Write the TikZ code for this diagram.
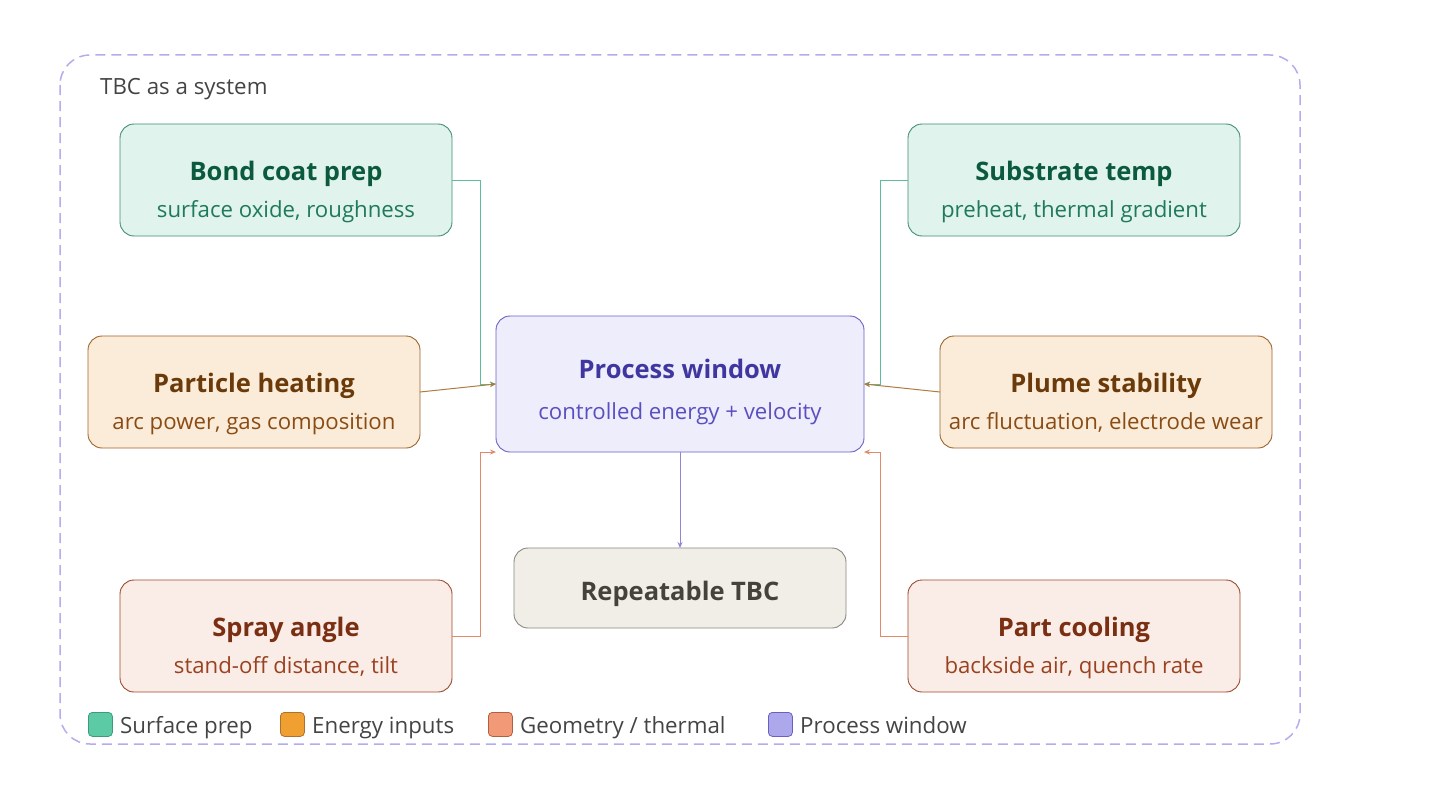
\documentclass[tikz,border=0pt]{standalone}
\usepackage{fontspec}
\setmainfont{Open Sans}
\usetikzlibrary{arrows.meta}
\definecolor{frame}{HTML}{B4ACEE}
\definecolor{gfill}{HTML}{E0F3EC}\definecolor{gdraw}{HTML}{3F8F70}\definecolor{gtitle}{HTML}{0B5A3E}\definecolor{gsub}{HTML}{1F7A5A}\definecolor{gline}{HTML}{5CBF9A}
\definecolor{ofill}{HTML}{FBECD9}\definecolor{odraw}{HTML}{A0622A}\definecolor{otitle}{HTML}{6B3A0A}\definecolor{osub}{HTML}{8A4C15}\definecolor{oline}{HTML}{B07A40}
\definecolor{sfill}{HTML}{FAECE6}\definecolor{sdraw}{HTML}{9C4A2A}\definecolor{stitle}{HTML}{7A2E12}\definecolor{ssub}{HTML}{9A4220}\definecolor{sline}{HTML}{E08A6A}
\definecolor{pfill}{HTML}{EEEDFC}\definecolor{pdraw}{HTML}{6B5FC4}\definecolor{ptitle}{HTML}{3F36A0}\definecolor{psub}{HTML}{5A4FC0}\definecolor{pline}{HTML}{8F85D6}
\definecolor{rfill}{HTML}{F1EEE8}\definecolor{rdraw}{HTML}{8A8680}\definecolor{rtext}{HTML}{45423C}
\definecolor{lgtext}{HTML}{444444}
\definecolor{lg1}{HTML}{5CCAA5}\definecolor{lg1d}{HTML}{3F9A7A}
\definecolor{lg2}{HTML}{F0A030}\definecolor{lg2d}{HTML}{B07030}
\definecolor{lg3}{HTML}{F29A78}\definecolor{lg3d}{HTML}{B06040}
\definecolor{lg4}{HTML}{ADA7EC}\definecolor{lg4d}{HTML}{6B5FC4}
\begin{document}
\begin{tikzpicture}[x=1pt,y=-1pt,
  box/.style={rounded corners=14pt, line width=0.9pt, inner sep=0pt, outer sep=0pt, minimum width=332pt, minimum height=112pt},
  gbox/.style={box, fill=gfill, draw=gdraw},
  obox/.style={box, fill=ofill, draw=odraw},
  sbox/.style={box, fill=sfill, draw=sdraw},
  ttl/.style={anchor=base, inner sep=0pt, font=\fontsize{25.5}{30}\selectfont\bfseries},
  sub/.style={anchor=base, inner sep=0pt, font=\fontsize{22.2}{26}\selectfont},
  conn/.style={line width=1pt, -{Stealth[length=6pt,width=5pt]}},
  lgbox/.style={rounded corners=4pt, line width=0.8pt, minimum width=24pt, minimum height=24pt, inner sep=0pt, anchor=north west},
  lgtxt/.style={anchor=base west, inner sep=0pt, text=lgtext, font=\fontsize{22.3}{26}\selectfont}
]
\useasboundingbox (0,0) rectangle (1440,800);
\draw[frame, line width=1.5pt, dash pattern=on 10pt off 6pt, rounded corners=30pt] (60,55) rectangle (1300,744);
\node[lgtxt] (heading) at (100,94) {TBC as a system};

% boxes
\node[gbox] (bond) at (286,180) {};
\node[ttl, text=gtitle] at (286,180) {Bond coat prep};
\node[sub, text=gsub] at (286,217) {surface oxide, roughness};

\node[gbox] (subs) at (1074,180) {};
\node[ttl, text=gtitle] at (1074,180) {Substrate temp};
\node[sub, text=gsub] at (1074,217) {preheat, thermal gradient};

\node[obox] (heat) at (254,392) {};
\node[ttl, text=otitle] at (254,392) {Particle heating};
\node[sub, text=osub] at (254,429) {arc power, gas composition};

\node[obox] (plume) at (1106,392) {};
\node[ttl, text=otitle] at (1106,392) {Plume stability};
\node[sub, text=osub] at (1106,429) {arc fluctuation, electrode wear};

\node[sbox] (spray) at (286,636) {};
\node[ttl, text=stitle] at (286,636) {Spray angle};
\node[sub, text=ssub] at (286,673) {stand-off distance, tilt};

\node[sbox] (cool) at (1074,636) {};
\node[ttl, text=stitle] at (1074,636) {Part cooling};
\node[sub, text=ssub] at (1074,673) {backside air, quench rate};

\node[box, fill=pfill, draw=pdraw, minimum width=368pt, minimum height=136pt] (pw) at (680,384) {};
\node[ttl, text=ptitle] at (680,378) {Process window};
\node[sub, text=psub] at (680,419) {controlled energy + velocity};

\node[box, fill=rfill, draw=rdraw, minimum height=80pt] (rep) at (680,588) {};
\node[ttl, text=rtext] at (680,600) {Repeatable TBC};

% connectors
\draw[conn, gline] (bond.east) -- (480,180) -- (480,384) -- (pw.west);
\draw[conn, gline] (subs.west) -- (880,180) -- (880,384) -- (pw.east);
\draw[conn, oline] (heat.east) -- (pw.west);
\draw[conn, oline] (plume.west) -- (pw.east);
\draw[conn, sline] (spray.east) -- (480,636) -- (480,452) -- (pw.south west);
\draw[conn, sline] (cool.west) -- (880,636) -- (880,452) -- (pw.south east);
\draw[conn, pline] (pw.south) -- (rep.north);

% legend
\node[lgbox, fill=lg1, draw=lg1d] (l1) at (88,712) {};
\node[lgtxt] at (120,733) {Surface prep};
\node[lgbox, fill=lg2, draw=lg2d] (l2) at (280,712) {};
\node[lgtxt] at (312,733) {Energy inputs};
\node[lgbox, fill=lg3, draw=lg3d] (l3) at (488,712) {};
\node[lgtxt] at (520,733) {Geometry / thermal};
\node[lgbox, fill=lg4, draw=lg4d] (l4) at (768,712) {};
\node[lgtxt] at (800,733) {Process window};
\end{tikzpicture}
\end{document}
